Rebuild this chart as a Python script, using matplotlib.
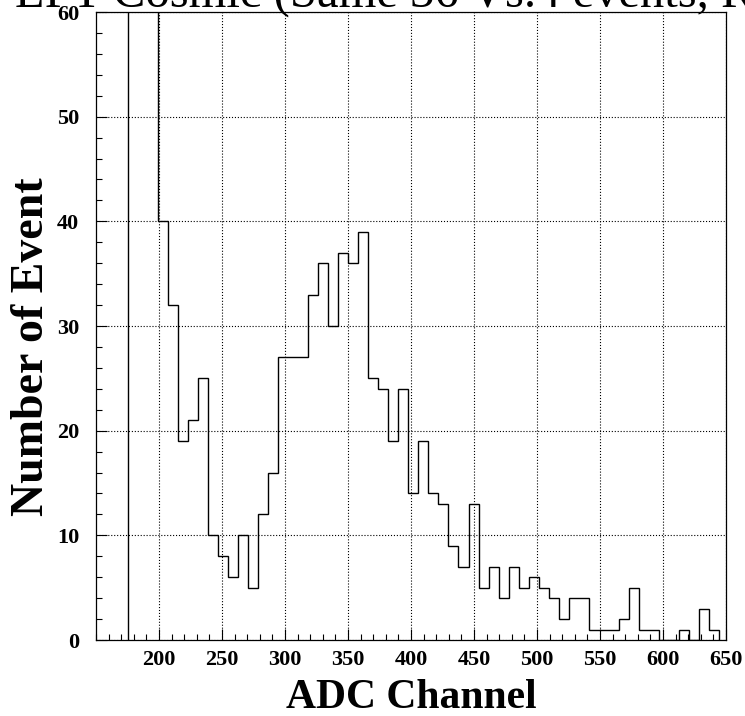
import matplotlib.pyplot as plt
import numpy as np

# histogram binning (ADC channels)
bin_start = 175.0
bin_width = 7.96
# first three bins run off the top of the frame (> 60)
counts = [75, 110, 90,
          40, 32, 19, 21, 25, 10, 8, 6, 10, 5, 12, 16,
          27, 27, 27, 33, 36, 30, 37, 36, 39, 25, 24, 19, 24,
          14, 19, 14, 13, 9, 7, 13, 5, 7, 4, 7, 5, 6, 5, 4,
          2, 4, 4, 1, 1, 1, 2, 5, 1, 1, 0, 0, 1, 0, 3, 1]

x_ticks = [200, 250, 300, 350, 400, 450, 500, 550, 600, 650]
y_ticks = [0, 10, 20, 30, 40, 50, 60]

title = "for LPT Cosmic (Same 36 Vs.4 events, RUN 12)"
x_label = "ADC Channel"
y_label = "Number of Event"

edges = bin_start + bin_width * np.arange(len(counts) + 1)

fig = plt.figure(figsize=(7.45, 7.16), dpi=100)
ax = fig.add_axes([0.1289, 0.1061, 0.8456, 0.8771])

ax.stairs(counts, edges, color='black', linewidth=1.0)

ax.set_xlim(150, 650)
ax.set_ylim(0, 60)
ax.set_xticks(x_ticks)
ax.set_xticks(np.arange(150, 651, 10), minor=True)
ax.set_yticks(y_ticks)
ax.set_yticks(np.arange(0, 61, 2), minor=True)
ax.grid(True, which='major', linestyle=':', color='black', linewidth=0.8)

ax.tick_params(which='both', direction='in', top=False, right=False, width=0.8)
ax.tick_params(which='major', length=8)
ax.tick_params(which='minor', length=4.3)
ax.tick_params(axis='x', pad=7)
ax.tick_params(axis='y', pad=12)
for lab in ax.get_xticklabels() + ax.get_yticklabels():
    lab.set_fontfamily('Liberation Serif')
    lab.set_fontweight('bold')
    lab.set_fontsize(16)

for sp in ax.spines.values():
    sp.set_linewidth(0.9)

ax.set_xlabel(x_label, fontfamily='Liberation Serif', fontweight='bold', fontsize=30)
ax.xaxis.set_label_coords(0.5, -0.062)
ax.set_ylabel(y_label, fontfamily='Liberation Serif', fontweight='bold', fontsize=33)
ax.yaxis.set_label_coords(-0.068, 0.467)

# title sits mostly above the canvas, only its lower part shows
fig.text(-0.0725, 0.991, title, ha='left', va='baseline',
         fontfamily='Liberation Serif', fontsize=35)

fig.savefig("out.png", dpi=100)
